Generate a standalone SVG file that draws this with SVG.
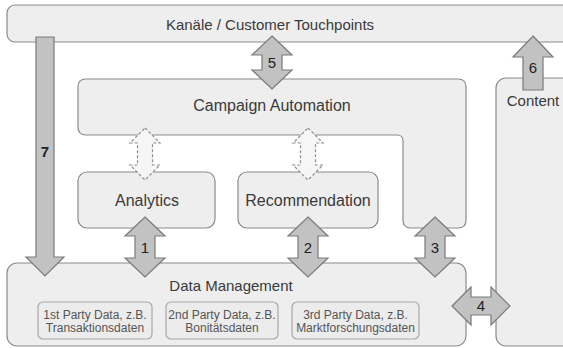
<svg xmlns="http://www.w3.org/2000/svg" width="563" height="348" viewBox="0 0 563 348">
<style>
.box{fill:#eeeeee;stroke:#8a8a8a;stroke-width:1.2}
.sub{fill:#ececec;stroke:#a8a8a8;stroke-width:1.2}
.arr{fill:#c2c2c2;stroke:#7a7a7a;stroke-width:1.2;stroke-linejoin:miter}
.darr{fill:#f6f6f6;stroke:#8f8f8f;stroke-width:1.2;stroke-dasharray:3 2}
.t{font-family:"Liberation Sans",Arial,sans-serif;fill:#3a3a3a;text-anchor:middle}
.big{font-size:16px}
.mid{font-size:15px}
.small{font-size:12px;fill:#555}
.num{font-family:"Liberation Sans",Arial,sans-serif;font-size:15px;fill:#222;text-anchor:middle}
</style>
<rect width="563" height="348" fill="#ffffff"/>
<g id="channels">
<rect class="box" x="7" y="5" width="570" height="37" rx="8"/>
<text class="t mid" x="270" y="30">Kanäle / Customer Touchpoints</text>
</g>
<g id="campaign">
<path class="box" d="M86,79 H458 Q466,79 466,87 V220 Q466,228 458,228 H411 Q403,228 403,220 V141 Q403,135 397,135 H86 Q78,135 78,127 V87 Q78,79 86,79 Z"/>
<text class="t big" x="272" y="111">Campaign Automation</text>
</g>
<g id="analytics">
<rect class="box" x="78" y="172" width="137" height="56" rx="9"/>
<text class="t big" x="147" y="206">Analytics</text>
</g>
<g id="recommendation">
<rect class="box" x="238" y="172" width="140" height="56" rx="9"/>
<text class="t big" x="308" y="206">Recommendation</text>
</g>
<g id="content">
<rect class="box" x="496" y="78" width="80" height="268" rx="10"/>
<text class="t mid" x="533" y="106">Content</text>
</g>
<g id="data-management">
<rect class="box" x="7" y="263" width="459" height="83" rx="10"/>
<text class="t mid" x="231" y="291">Data Management</text>
<g id="first-party">
<rect class="sub" x="38" y="302" width="114" height="37" rx="5"/>
<text class="t small" x="95" y="319">1st Party Data, z.B.</text>
<text class="t small" x="95" y="332">Transaktionsdaten</text>
</g>
<g id="second-party">
<rect class="sub" x="166" y="302" width="112" height="37" rx="5"/>
<text class="t small" x="222" y="319">2nd Party Data, z.B.</text>
<text class="t small" x="222" y="332">Bonitätsdaten</text>
</g>
<g id="third-party">
<rect class="sub" x="292" y="302" width="127" height="37" rx="5"/>
<text class="t small" x="355.5" y="319">3rd Party Data, z.B.</text>
<text class="t small" x="355.5" y="332">Marktforschungsdaten</text>
</g>
</g>
<g id="connectors">
<path class="arr" d="M36,37 H54 V257 H64 L45,276 L26,257 H36 Z"/>
<text class="num" x="45" y="157" font-weight="bold">7</text>
<path class="arr" d="M272,36 L292,55 H282 V70 H292 L272,89 L252,70 H262 V55 H252 Z"/>
<text class="num" x="272" y="68">5</text>
<path class="arr" d="M533,36 L553,57 H543 V90 H523 V57 H513 Z"/>
<text class="num" x="533" y="73">6</text>
<path class="darr" d="M145,128 L160,143 H152.5 V165 H160 L145,180 L130,165 H137.5 V143 H130 Z"/>
<path class="darr" d="M308,128 L323,143 H315.5 V165 H323 L308,180 L293,165 H300.5 V143 H293 Z"/>
<path class="arr" d="M145,217 L165,236 H155 V258 H165 L145,277 L125,258 H135 V236 H125 Z"/>
<text class="num" x="145" y="253">1</text>
<path class="arr" d="M308,217 L328,236 H318 V258 H328 L308,277 L288,258 H298 V236 H288 Z"/>
<text class="num" x="308" y="253">2</text>
<path class="arr" d="M435,217 L455,236 H445 V258 H455 L435,277 L415,258 H425 V236 H415 Z"/>
<text class="num" x="435" y="253">3</text>
<path class="arr" d="M452,306 L471,287 V297 H491 V287 L510,306 L491,325 V315 H471 V325 Z"/>
<text class="num" x="481" y="311">4</text>
</g>
</svg>
